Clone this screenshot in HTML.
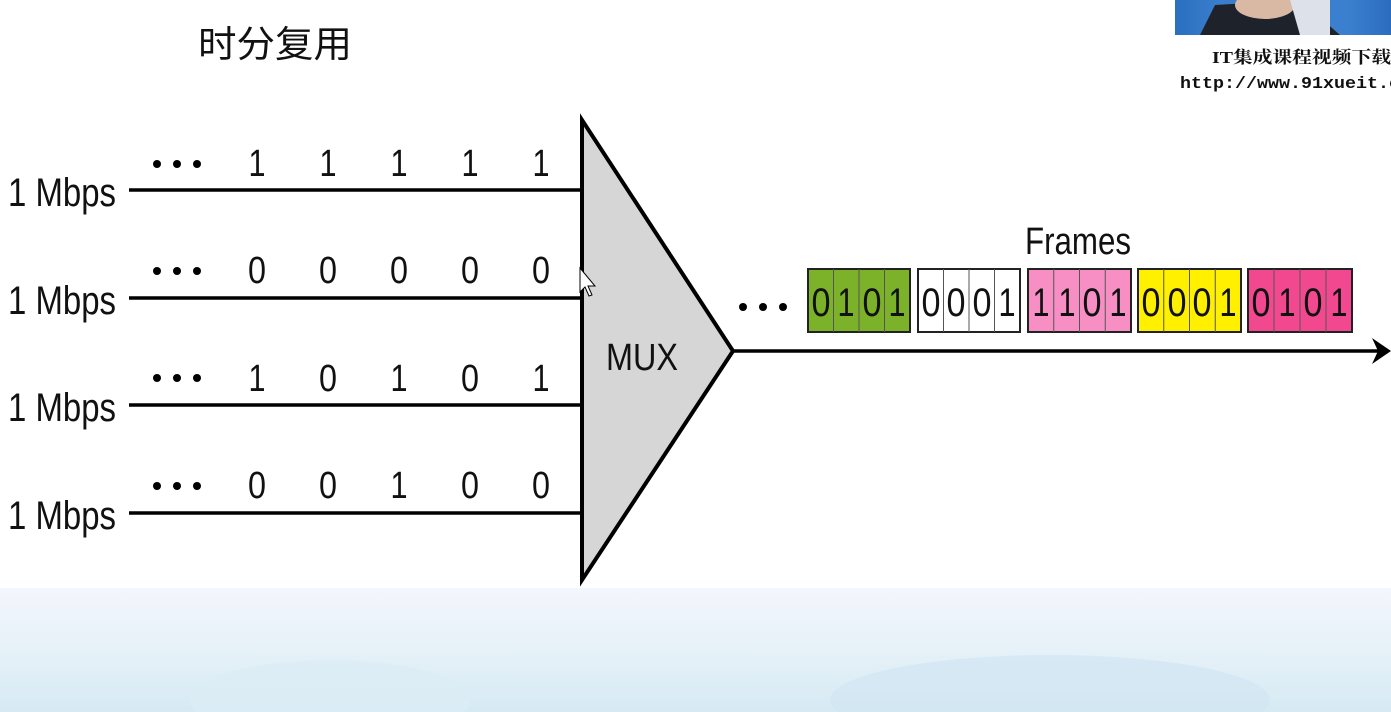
<!DOCTYPE html>
<html><head><meta charset="utf-8"><style>
html,body{margin:0;padding:0;width:1391px;height:712px;overflow:hidden;background:#fff}
svg{display:block}
text{font-family:"Liberation Sans Narrow","Liberation Sans",sans-serif;fill:#111}
</style></head><body>
<svg width="1391" height="712" viewBox="0 0 1391 712" xmlns="http://www.w3.org/2000/svg">
<defs>
<linearGradient id="sky" x1="0" y1="0" x2="0" y2="1">
<stop offset="0" stop-color="#f3f6fd"/>
<stop offset="0.5" stop-color="#e6f1f8"/>
<stop offset="1" stop-color="#d6eaf3"/>
</linearGradient>
<linearGradient id="photo" x1="0" y1="0" x2="1" y2="0">
<stop offset="0" stop-color="#2a6fc0"/>
<stop offset="0.2" stop-color="#3a7dcc"/>
<stop offset="0.8" stop-color="#3b7fcf"/>
<stop offset="1" stop-color="#2b6cbf"/>
</linearGradient>
</defs>
<rect x="0" y="588" width="1391" height="124" fill="url(#sky)"/>
<ellipse cx="330" cy="700" rx="140" ry="40" fill="#dcedf5" opacity="0.7"/>
<ellipse cx="1050" cy="700" rx="220" ry="45" fill="#d2e6f2" opacity="0.7"/>
<rect x="1175" y="0" width="216" height="35" fill="url(#photo)"/>
<path d="M1200 35 L1215 5 L1300 0 L1340 35 Z" fill="#1e232b"/>
<ellipse cx="1265" cy="5" rx="30" ry="14" fill="#d9b8a4"/>
<path d="M1290 0 L1330 0 L1330 35 L1300 35 Z" fill="#dde2ea"/>
<text x="1212" y="63" textLength="179" lengthAdjust="spacingAndGlyphs" style="font-family:'Liberation Serif','Noto Serif CJK SC',serif;font-size:17px;font-weight:bold" fill="#222">IT集成课程视频下载</text>
<text x="1180" y="88" textLength="220" lengthAdjust="spacingAndGlyphs" style="font-family:'Liberation Mono',monospace;font-size:17px;font-weight:bold" fill="#222">http://www.91xueit.c</text>
<text x="198" y="57" textLength="154" lengthAdjust="spacingAndGlyphs" style="font-family:'Liberation Sans','Noto Sans CJK SC',sans-serif;font-size:37px" fill="#222">时分复用</text>
<g stroke="#000" stroke-width="3.5">
<line x1="129" y1="190" x2="584" y2="190"/>
<line x1="129" y1="298" x2="584" y2="298"/>
<line x1="129" y1="405" x2="584" y2="405"/>
<line x1="129" y1="513" x2="584" y2="513"/>
<line x1="733" y1="351" x2="1380" y2="351"/>
</g>
<path d="M1372 338 L1391 351 L1372 364 L1378 351 Z" fill="#000"/>
<g font-size="40">
<text x="8" y="206" textLength="108" lengthAdjust="spacingAndGlyphs">1 Mbps</text>
<text x="8" y="314" textLength="108" lengthAdjust="spacingAndGlyphs">1 Mbps</text>
<text x="8" y="421" textLength="108" lengthAdjust="spacingAndGlyphs">1 Mbps</text>
<text x="8" y="529" textLength="108" lengthAdjust="spacingAndGlyphs">1 Mbps</text>
</g>
<g fill="#000">
<circle cx="157" cy="164" r="4"/><circle cx="177" cy="164" r="4"/><circle cx="197" cy="164" r="4"/>
<circle cx="157" cy="271" r="4"/><circle cx="177" cy="271" r="4"/><circle cx="197" cy="271" r="4"/>
<circle cx="157" cy="378" r="4"/><circle cx="177" cy="378" r="4"/><circle cx="197" cy="378" r="4"/>
<circle cx="157" cy="486" r="4"/><circle cx="177" cy="486" r="4"/><circle cx="197" cy="486" r="4"/>
<circle cx="743" cy="307" r="4"/><circle cx="763" cy="307" r="4"/><circle cx="783" cy="307" r="4"/>
</g>
<g font-size="38" text-anchor="middle">
<text x="257" y="176" textLength="17" lengthAdjust="spacingAndGlyphs">1</text><text x="328" y="176" textLength="17" lengthAdjust="spacingAndGlyphs">1</text><text x="399" y="176" textLength="17" lengthAdjust="spacingAndGlyphs">1</text><text x="470" y="176" textLength="17" lengthAdjust="spacingAndGlyphs">1</text><text x="541" y="176" textLength="17" lengthAdjust="spacingAndGlyphs">1</text>
<text x="257" y="283" textLength="18" lengthAdjust="spacingAndGlyphs">0</text><text x="328" y="283" textLength="18" lengthAdjust="spacingAndGlyphs">0</text><text x="399" y="283" textLength="18" lengthAdjust="spacingAndGlyphs">0</text><text x="470" y="283" textLength="18" lengthAdjust="spacingAndGlyphs">0</text><text x="541" y="283" textLength="18" lengthAdjust="spacingAndGlyphs">0</text>
<text x="257" y="391" textLength="17" lengthAdjust="spacingAndGlyphs">1</text><text x="328" y="391" textLength="18" lengthAdjust="spacingAndGlyphs">0</text><text x="399" y="391" textLength="17" lengthAdjust="spacingAndGlyphs">1</text><text x="470" y="391" textLength="18" lengthAdjust="spacingAndGlyphs">0</text><text x="541" y="391" textLength="17" lengthAdjust="spacingAndGlyphs">1</text>
<text x="257" y="498" textLength="18" lengthAdjust="spacingAndGlyphs">0</text><text x="328" y="498" textLength="18" lengthAdjust="spacingAndGlyphs">0</text><text x="399" y="498" textLength="17" lengthAdjust="spacingAndGlyphs">1</text><text x="470" y="498" textLength="18" lengthAdjust="spacingAndGlyphs">0</text><text x="541" y="498" textLength="18" lengthAdjust="spacingAndGlyphs">0</text>
</g>
<polygon points="582,120 582,580 733,351" fill="#d6d6d6" stroke="#000" stroke-width="4" stroke-linejoin="miter"/>
<text x="606" y="370" font-size="38" textLength="72" lengthAdjust="spacingAndGlyphs">MUX</text>
<text x="1025" y="254" font-size="38" textLength="106" lengthAdjust="spacingAndGlyphs">Frames</text>
<g stroke="#222" stroke-width="2">
<rect x="808" y="269" width="102" height="63" fill="#7cb12a"/>
<rect x="918" y="269" width="102" height="63" fill="#ffffff"/>
<rect x="1028" y="269" width="103" height="63" fill="#f78fc4"/>
<rect x="1138" y="269" width="103" height="63" fill="#fff000"/>
<rect x="1248" y="269" width="104" height="63" fill="#f2488f"/>
</g>
<g stroke="#555" stroke-width="1">
<line x1="833.5" y1="269" x2="833.5" y2="332"/><line x1="859" y1="269" x2="859" y2="332"/><line x1="884.5" y1="269" x2="884.5" y2="332"/>
<line x1="943.5" y1="269" x2="943.5" y2="332"/><line x1="969" y1="269" x2="969" y2="332"/><line x1="994.5" y1="269" x2="994.5" y2="332"/>
<line x1="1053.75" y1="269" x2="1053.75" y2="332"/><line x1="1079.5" y1="269" x2="1079.5" y2="332"/><line x1="1105.25" y1="269" x2="1105.25" y2="332"/>
<line x1="1163.75" y1="269" x2="1163.75" y2="332"/><line x1="1189.5" y1="269" x2="1189.5" y2="332"/><line x1="1215.25" y1="269" x2="1215.25" y2="332"/>
<line x1="1274" y1="269" x2="1274" y2="332"/><line x1="1300" y1="269" x2="1300" y2="332"/><line x1="1326" y1="269" x2="1326" y2="332"/>
</g>
<g font-size="40" text-anchor="middle">
<text x="821" y="316" textLength="19" lengthAdjust="spacingAndGlyphs">0</text><text x="846" y="316" textLength="17" lengthAdjust="spacingAndGlyphs">1</text><text x="872" y="316" textLength="19" lengthAdjust="spacingAndGlyphs">0</text><text x="897" y="316" textLength="17" lengthAdjust="spacingAndGlyphs">1</text>
<text x="931" y="316" textLength="19" lengthAdjust="spacingAndGlyphs">0</text><text x="956" y="316" textLength="19" lengthAdjust="spacingAndGlyphs">0</text><text x="982" y="316" textLength="19" lengthAdjust="spacingAndGlyphs">0</text><text x="1007" y="316" textLength="17" lengthAdjust="spacingAndGlyphs">1</text>
<text x="1041" y="316" textLength="17" lengthAdjust="spacingAndGlyphs">1</text><text x="1067" y="316" textLength="17" lengthAdjust="spacingAndGlyphs">1</text><text x="1092" y="316" textLength="19" lengthAdjust="spacingAndGlyphs">0</text><text x="1118" y="316" textLength="17" lengthAdjust="spacingAndGlyphs">1</text>
<text x="1151" y="316" textLength="19" lengthAdjust="spacingAndGlyphs">0</text><text x="1177" y="316" textLength="19" lengthAdjust="spacingAndGlyphs">0</text><text x="1202" y="316" textLength="19" lengthAdjust="spacingAndGlyphs">0</text><text x="1228" y="316" textLength="17" lengthAdjust="spacingAndGlyphs">1</text>
<text x="1261" y="316" textLength="19" lengthAdjust="spacingAndGlyphs">0</text><text x="1287" y="316" textLength="17" lengthAdjust="spacingAndGlyphs">1</text><text x="1313" y="316" textLength="19" lengthAdjust="spacingAndGlyphs">0</text><text x="1339" y="316" textLength="17" lengthAdjust="spacingAndGlyphs">1</text>
</g>
<path d="M580 268 L580 292 L585 287 L589 296 L592 295 L588 286 L595 286 Z" fill="#fff" stroke="#000" stroke-width="1"/>
</svg>
</body></html>
